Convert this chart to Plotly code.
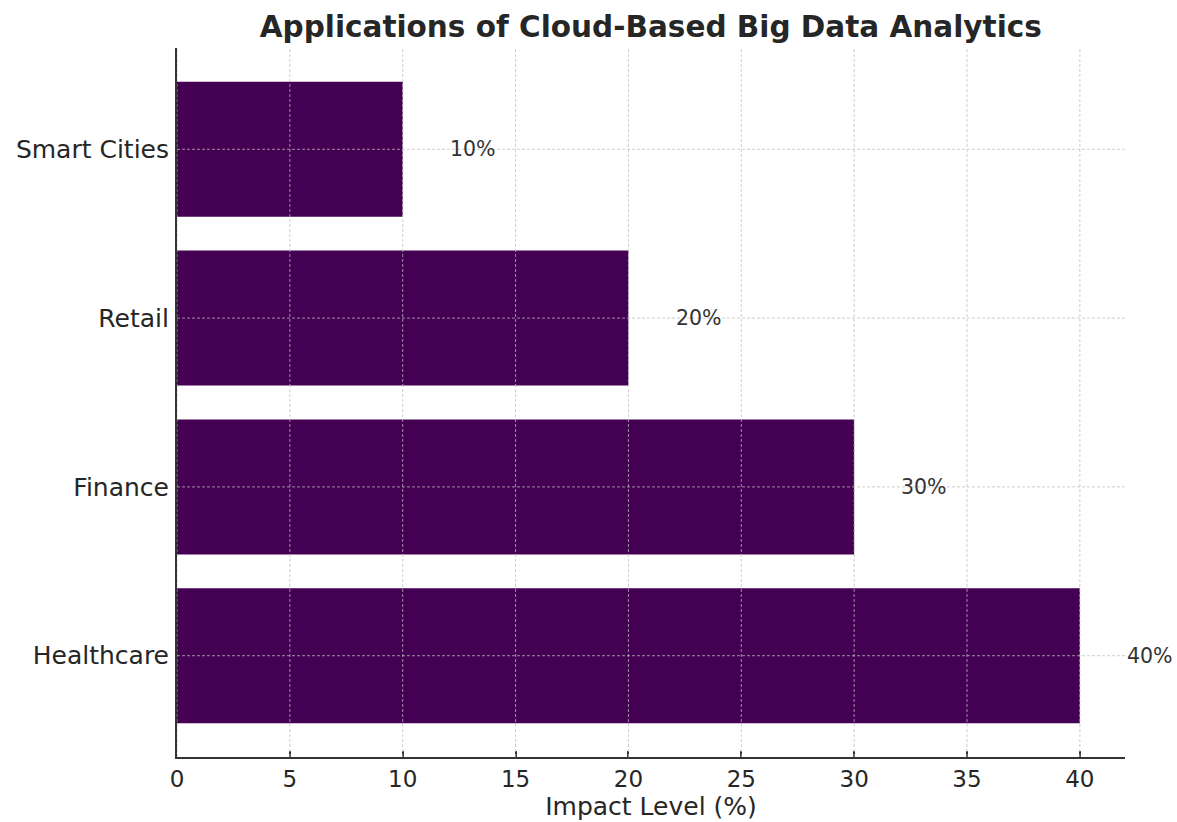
import plotly.graph_objects as go

# Application areas and their impact levels (%)
categories = ["Healthcare", "Finance", "Retail", "Smart Cities"]
impact = [40, 30, 20, 10]
x_ticks = [0, 5, 10, 15, 20, 25, 30, 35, 40]

bar_color = "#440154"
text_color = "#262626"
grid_color = "rgba(190,190,190,0.75)"
font_family = "DejaVu Sans"

fig = go.Figure()
fig.add_trace(go.Bar(
    x=impact,
    y=categories,
    orientation="h",
    width=0.8,
    marker=dict(color=bar_color, line=dict(width=0)),
    hoverinfo="skip",
))

# Value labels to the right of each bar
for cat, val in zip(categories, impact):
    fig.add_annotation(
        x=val + 2, y=cat, xref="x", yref="y",
        text=f"{val}%", showarrow=False,
        xanchor="left", yanchor="middle",
        font=dict(size=20.5, color="#333333", family=font_family),
    )

# Dashed grid lines drawn over the bars
shapes = []
for t in x_ticks:
    shapes.append(dict(
        type="line", xref="x", yref="paper", x0=t, x1=t, y0=0, y1=1,
        line=dict(color=grid_color, width=1, dash="3px,2px"), layer="above",
    ))
for cat in categories:
    shapes.append(dict(
        type="line", xref="paper", yref="y", x0=0, x1=1, y0=cat, y1=cat,
        line=dict(color=grid_color, width=1, dash="3px,2px"), layer="above",
    ))

fig.update_layout(
    width=1177, height=822,
    margin=dict(l=177, r=52, t=48, b=65, pad=0, autoexpand=False),
    paper_bgcolor="white", plot_bgcolor="white",
    shapes=shapes,
    showlegend=False,
    title=dict(
        text="<b>Applications of Cloud-Based Big Data Analytics</b>",
        x=0.5529, xanchor="center",
        y=0.967, yanchor="middle",
        font=dict(size=29.5, color=text_color, family=font_family),
    ),
    font=dict(family=font_family, color=text_color),
    xaxis=dict(
        range=[0, 42],
        tickvals=x_ticks,
        ticktext=[str(t) for t in x_ticks],
        showgrid=False, zeroline=False,
        showline=True, linecolor="#333333", linewidth=2,
        ticks="inside", ticklen=6, tickwidth=1.5, tickcolor="#333333",
        tickfont=dict(size=23, color=text_color),
        title=dict(text="Impact Level (%)", font=dict(size=25, color=text_color), standoff=7),
        automargin=False,
        layer="above traces",
    ),
    yaxis=dict(
        range=[-0.6, 3.6],
        categoryorder="array", categoryarray=categories,
        showgrid=False, zeroline=False,
        showline=True, linecolor="#333333", linewidth=2,
        ticks="", ticklen=0,
        ticklabelstandoff=1,
        tickfont=dict(size=25, color=text_color),
        automargin=False,
        layer="above traces",
    ),
)

fig.write_html("out.html")
